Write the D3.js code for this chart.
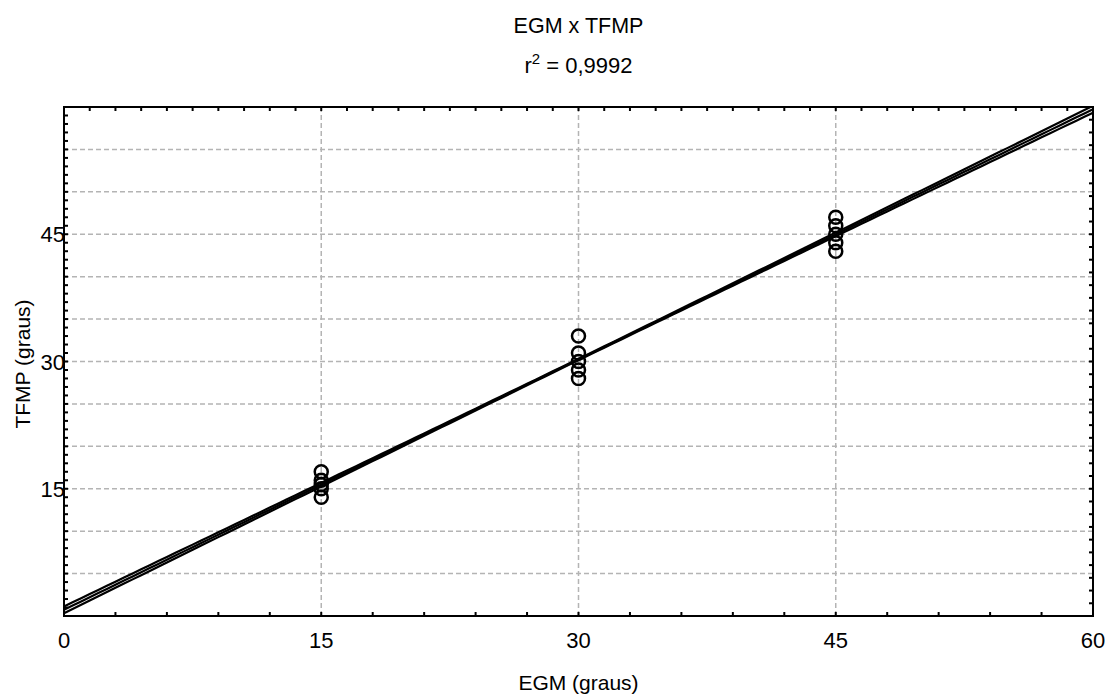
<!DOCTYPE html>
<html>
<head>
<meta charset="utf-8">
<script src="https://cdn.jsdelivr.net/npm/d3@7"></script>
<style>
  html, body { margin: 0; padding: 0; background: #fff; }
  svg { display: block; font-family: "Liberation Sans", Arial, sans-serif; }
</style>
</head>
<body>
<svg id="chart" width="1110" height="695"></svg>
<script>
// EGM (graus) measured angle groups and the TFMP readings for each
const egmValues  = [15, 15, 15, 15, 15, 30, 30, 30, 30, 30, 45, 45, 45, 45, 45];
const tfmpValues = [17, 16, 15.5, 15, 14, 33, 31, 30, 29, 28, 47, 46, 45, 44, 43];

// axis tick labels
const xTickLabels = [0, 15, 30, 45, 60];
const yTickLabels = [15, 30, 45];
const yGridValues = [5, 10, 15, 20, 25, 30, 35, 40, 45, 50, 55];

// confidence band half-width at the centre and at the ends of the range
const bandHalfCentre = 0.08;
const bandHalfEnds = 0.4;

const titleText = "EGM x TFMP";
const r2Text = "0,9992";

const svg = d3.select("#chart");
const margin = { left: 64, right: 17, top: 107, bottom: 79 };
const W = 1110, H = 695;
const x = d3.scaleLinear().domain([0, 60]).range([margin.left, W - margin.right]);
const y = d3.scaleLinear().domain([0, 60]).range([H - margin.bottom, margin.top]);

svg.append("defs").append("clipPath").attr("id", "plotClip")
  .append("rect")
  .attr("x", x(0)).attr("y", y(60))
  .attr("width", x(60) - x(0)).attr("height", y(0) - y(60));

// dashed grid
const grid = svg.append("g").attr("stroke", "#b4b4b4").attr("stroke-width", 1.5)
  .attr("stroke-dasharray", "5,3");
grid.selectAll("line.h").data(yGridValues).join("line").attr("class", "h")
  .attr("x1", x(0)).attr("x2", x(60)).attr("y1", d => y(d)).attr("y2", d => y(d));
grid.selectAll("line.v").data([15, 30, 45]).join("line").attr("class", "v")
  .attr("y1", y(0)).attr("y2", y(60)).attr("x1", d => x(d)).attr("x2", d => x(d));

// least-squares fit
const n = egmValues.length;
const mx = d3.mean(egmValues), my = d3.mean(tfmpValues);
let sxy = 0, sxx = 0;
for (let i = 0; i < n; i++) {
  sxy += (egmValues[i] - mx) * (tfmpValues[i] - my);
  sxx += (egmValues[i] - mx) ** 2;
}
const slope = sxy / sxx;
const intercept = my - slope * mx;
const fit = v => intercept + slope * v;

// hyperbolic band width, narrowest at the mean
const bCoef = Math.sqrt(bandHalfEnds ** 2 - bandHalfCentre ** 2) / Math.max(mx, 60 - mx);
const half = v => Math.sqrt(bandHalfCentre ** 2 + (bCoef * (v - mx)) ** 2);

const xs = d3.range(0, 60.01, 0.5);
const lineGen = d3.line().x(d => x(d[0])).y(d => y(d[1]));
const plot = svg.append("g").attr("clip-path", "url(#plotClip)");
const curves = [
  xs.map(v => [v, fit(v)]),
  xs.map(v => [v, fit(v) + half(v)]),
  xs.map(v => [v, fit(v) - half(v)])
];
plot.selectAll("path.fit").data(curves).join("path").attr("class", "fit")
  .attr("d", lineGen).attr("fill", "none").attr("stroke", "#000").attr("stroke-width", 2.2);

// observations
plot.selectAll("circle").data(egmValues.map((v, i) => [v, tfmpValues[i]])).join("circle")
  .attr("cx", d => x(d[0])).attr("cy", d => y(d[1])).attr("r", 6.5)
  .attr("fill", "none").attr("stroke", "#000").attr("stroke-width", 2.5);

// frame
svg.append("rect").attr("x", x(0)).attr("y", y(60))
  .attr("width", x(60) - x(0)).attr("height", y(0) - y(60))
  .attr("fill", "none").attr("stroke", "#000").attr("stroke-width", 2);

// inward minor ticks on each side
const ticks = svg.append("g").attr("stroke", "#000").attr("stroke-width", 2);
const tl = 4;
ticks.selectAll("line.l").data(d3.range(1, 60, 1)).join("line").attr("class", "l")
  .attr("x1", x(0)).attr("x2", x(0) + tl).attr("y1", d => y(d)).attr("y2", d => y(d));
ticks.selectAll("line.r").data(d3.range(1.5, 60, 1.5)).join("line").attr("class", "r")
  .attr("x1", x(60)).attr("x2", x(60) - tl).attr("y1", d => y(d)).attr("y2", d => y(d));
ticks.selectAll("line.t").data(d3.range(1.5, 60, 1.5)).join("line").attr("class", "t")
  .attr("y1", y(60)).attr("y2", y(60) + tl).attr("x1", d => x(d)).attr("x2", d => x(d));
ticks.selectAll("line.b").data(d3.range(3, 60, 3)).join("line").attr("class", "b")
  .attr("y1", y(0)).attr("y2", y(0) - tl).attr("x1", d => x(d)).attr("x2", d => x(d));

// tick labels
svg.append("g").selectAll("text").data(xTickLabels).join("text")
  .attr("x", d => x(d)).attr("y", 648).attr("text-anchor", "middle")
  .attr("font-size", 22).text(d => d);
svg.append("g").selectAll("text").data(yTickLabels).join("text")
  .attr("x", x(0) + 1).attr("y", d => y(d) + 8).attr("text-anchor", "end")
  .attr("font-size", 22).text(d => d);

// titles
svg.append("text").attr("x", x(30)).attr("y", 33).attr("text-anchor", "middle")
  .attr("font-size", 21.5).text(titleText);
const r2 = svg.append("text").attr("x", x(30)).attr("y", 73).attr("text-anchor", "middle")
  .attr("font-size", 22);
r2.append("tspan").text("r");
r2.append("tspan").attr("font-size", 15).attr("dy", -9).text("2");
r2.append("tspan").attr("dy", 9).text(" = " + r2Text);

svg.append("text").attr("x", x(30)).attr("y", 690).attr("text-anchor", "middle")
  .attr("font-size", 21).text("EGM (graus)");
svg.append("text").attr("transform", `translate(30,364) rotate(-90)`)
  .attr("text-anchor", "middle").attr("font-size", 21).text("TFMP (graus)");
</script>
</body>
</html>
